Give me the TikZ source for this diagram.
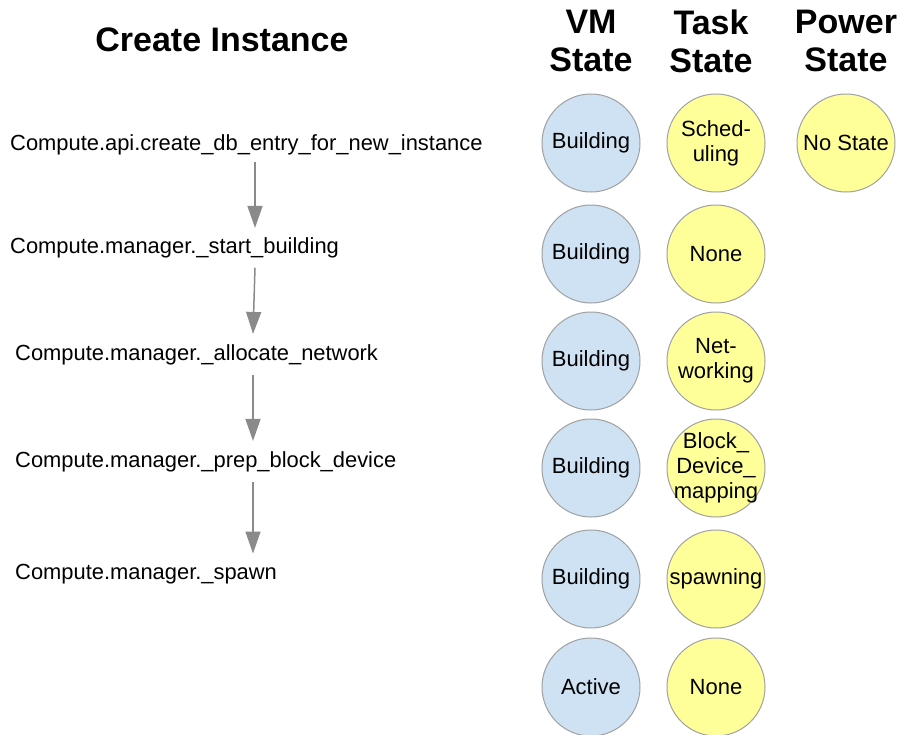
\documentclass[tikz,border=0pt]{standalone}
\usepackage{xcolor}
\usepackage{fontspec}
\setmainfont{Liberation Sans}
\usepackage{tikz}
\usetikzlibrary{arrows.meta,calc}
\definecolor{VM}{HTML}{cfe2f3}
\definecolor{TS}{HTML}{ffff99}
\definecolor{RIM}{HTML}{a0a0a0}
\definecolor{FLOW}{HTML}{8a8a8a}
\tikzset{
  state/.style={circle, draw=RIM, line width=1pt, minimum size=98pt, inner sep=-10pt, align=center, font=\fontsize{22}{25}\selectfont},
  vm/.style={state, fill=VM},
  ts/.style={state, fill=TS},
  head/.style={align=center, font=\fontsize{34}{38}\selectfont\bfseries},
  call/.style={anchor=base west, inner sep=0pt, font=\fontsize{21.9}{25}\selectfont},
  flow/.style={draw=FLOW, line width=1.5pt, -{Triangle[length=22pt, width=15pt]}},
}
\begin{document}
\begin{tikzpicture}[x=1pt, y=-1pt]%
\useasboundingbox (0,0) rectangle (900,734);%
% headings
\node[head] (title) at (222, 40) {Create Instance};%
\node[head] (hvm) at (591, 41) {VM\\State};%
\node[head] (hts) at (711, 41) {Task\\State};%
\node[head] (hps) at (846, 41) {Power\\State};%
% calls
\node[call] (c1) at (10, 150) {Compute.api.create\_db\_entry\_for\_new\_instance};%
\node[call] (c2) at (10, 253) {Compute.manager.\_start\_building};%
\node[call] (c3) at (15, 360) {Compute.manager.\_allocate\_network};%
\node[call] (c4) at (15, 467) {Compute.manager.\_prep\_block\_device};%
\node[call] (c5) at (15, 579) {Compute.manager.\_spawn};%
\draw[flow] ($(c1.south west)+(245,7)$) -- ($(c2.north west)+(245,-9)$);%
\draw[flow] ($(c2.south west)+(245,10)$) -- ($(c3.north west)+(238,-10)$);%
\draw[flow] ($(c3.south west)+(238,10)$) -- ($(c4.north west)+(238,-10)$);%
\draw[flow] ($(c4.south west)+(238,10)$) -- ($(c5.north west)+(238,-10)$);%
% vm states
\node[vm] (v1) at (591, 143) {Building};%
\node[vm] (v2) at (591, 254) {Building};%
\node[vm] (v3) at (591, 361) {Building};%
\node[vm] (v4) at (591, 468) {Building};%
\node[vm] (v5) at (591, 579) {Building};%
\node[vm] (v6) at (591, 687) {Active};%
% task states
\node[ts] (t1) at (716, 143) {Sched-\\uling};%
\node[ts] (t2) at (716, 254) {None};%
\node[ts] (t3) at (716, 361) {Net-\\working};%
\node[ts] (t4) at (716, 468) {Block\_\\Device\_\\mapping};%
\node[ts] (t5) at (716, 579) {spawning};%
\node[ts] (t6) at (716, 687) {None};%
% power state
\node[ts] (p1) at (846, 143) {No State};%
\end{tikzpicture}
\end{document}
